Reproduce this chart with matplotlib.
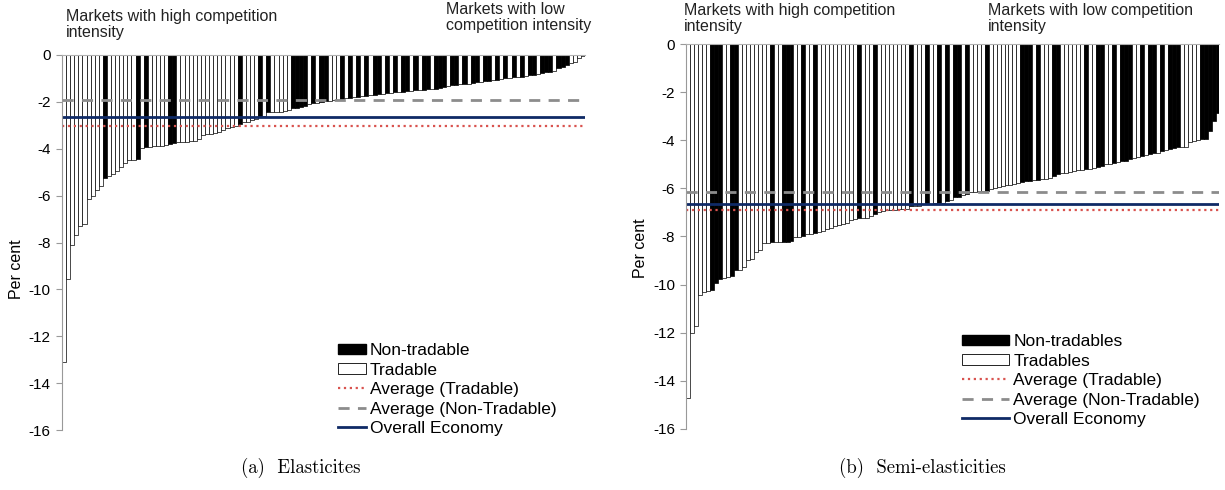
import matplotlib.pyplot as plt
from matplotlib.patches import Patch

plt.rcParams['font.family'] = ['Liberation Sans', 'DejaVu Sans']
plt.rcParams['axes.unicode_minus'] = False

# (a) elasticities, sorted from most to least negative; 1 = non-tradable, 0 = tradable
elast = [-13.1, -9.55, -8.1, -7.7, -7.3, -7.2, -6.15, -6.0, -5.75, -5.57,
         -5.25, -5.15, -5.06, -4.96, -4.78, -4.61, -4.5, -4.47, -4.44, -3.95,
         -3.93, -3.91, -3.9, -3.9, -3.89, -3.83, -3.78, -3.76, -3.73, -3.72,
         -3.7, -3.69, -3.66, -3.57, -3.43, -3.38, -3.37, -3.33, -3.28, -3.22,
         -3.13, -3.08, -3.02, -2.94, -2.88, -2.84, -2.77, -2.71, -2.63, -2.6,
         -2.45, -2.45, -2.42, -2.42, -2.41, -2.34, -2.28, -2.25, -2.22, -2.16,
         -2.09, -2.06, -2.03, -2.0, -1.98, -1.95, -1.92, -1.9, -1.88, -1.85,
         -1.83, -1.8, -1.78, -1.76, -1.74, -1.71, -1.69, -1.67, -1.65, -1.63,
         -1.61, -1.6, -1.58, -1.56, -1.55, -1.53, -1.51, -1.49, -1.48, -1.47,
         -1.45, -1.44, -1.43, -1.35, -1.32, -1.3, -1.28, -1.25, -1.23, -1.22,
         -1.18, -1.17, -1.17, -1.13, -1.12, -1.07, -1.06, -1.03, -1.0, -0.99,
         -0.96, -0.95, -0.92, -0.89, -0.85, -0.84, -0.8, -0.75, -0.73, -0.71,
         -0.7, -0.55, -0.52, -0.43, -0.36, -0.28, -0.14, -0.04]
elast_nt = [0, 0, 0, 0, 0, 0, 0, 0, 0, 0,
            1, 0, 0, 0, 0, 0, 0, 0, 1, 0,
            1, 0, 0, 0, 0, 0, 1, 1, 0, 0,
            0, 0, 0, 0, 0, 0, 0, 0, 0, 0,
            0, 0, 0, 1, 0, 0, 0, 0, 1, 0,
            1, 0, 0, 0, 0, 0, 1, 1, 1, 1,
            0, 1, 0, 1, 1, 0, 0, 0, 1, 0,
            1, 0, 1, 0, 1, 0, 1, 1, 0, 1,
            0, 1, 0, 1, 1, 0, 1, 0, 1, 1,
            0, 1, 1, 1, 0, 1, 1, 0, 1, 0,
            1, 1, 0, 1, 1, 0, 1, 0, 1, 0,
            1, 0, 1, 0, 1, 1, 0, 1, 1, 1,
            0, 1, 1, 1, 0, 0, 0, 0]
elast_avg_trad = -3.03
elast_avg_nontrad = -1.91
elast_overall = -2.65

# (b) semi-elasticities
semi = [-14.73, -12.02, -11.72, -10.43, -10.32, -10.27, -10.22, -9.92, -9.78, -9.74,
        -9.67, -9.66, -9.4, -9.39, -9.26, -8.98, -8.95, -8.63, -8.56, -8.28,
        -8.25, -8.23, -8.22, -8.22, -8.22, -8.21, -8.2, -8.04, -8.02, -7.98,
        -7.9, -7.88, -7.84, -7.8, -7.79, -7.7, -7.66, -7.56, -7.52, -7.49,
        -7.43, -7.31, -7.29, -7.25, -7.23, -7.22, -7.15, -7.07, -6.97, -6.93,
        -6.9, -6.89, -6.88, -6.87, -6.86, -6.84, -6.74, -6.73, -6.72, -6.66,
        -6.65, -6.64, -6.62, -6.61, -6.6, -6.51, -6.5, -6.36, -6.35, -6.28,
        -6.24, -6.15, -6.14, -6.12, -6.1, -6.09, -6.01, -5.98, -5.93, -5.91,
        -5.88, -5.85, -5.82, -5.79, -5.74, -5.71, -5.68, -5.65, -5.64, -5.62,
        -5.6, -5.56, -5.5, -5.4, -5.38, -5.35, -5.32, -5.28, -5.24, -5.22,
        -5.2, -5.18, -5.15, -5.1, -5.06, -4.99, -4.97, -4.93, -4.9, -4.88,
        -4.85, -4.8, -4.74, -4.71, -4.66, -4.6, -4.58, -4.55, -4.52, -4.46,
        -4.41, -4.36, -4.33, -4.3, -4.28, -4.27, -4.06, -4.03, -4.0, -3.96,
        -3.93, -3.6, -3.2, -2.88]
semi_nt = [0, 0, 0, 0, 0, 0, 1, 1, 1, 0,
           0, 1, 1, 0, 0, 0, 0, 0, 0, 0,
           0, 1, 0, 0, 1, 1, 1, 0, 0, 1,
           0, 0, 1, 0, 0, 0, 0, 0, 0, 0,
           0, 0, 0, 1, 0, 0, 0, 1, 0, 0,
           0, 0, 0, 0, 0, 0, 1, 0, 0, 0,
           1, 0, 0, 1, 0, 1, 0, 1, 1, 0,
           1, 0, 0, 0, 0, 1, 0, 0, 0, 0,
           0, 0, 0, 0, 1, 1, 1, 0, 1, 0,
           0, 0, 1, 1, 0, 0, 0, 0, 0, 0,
           1, 0, 0, 1, 1, 0, 0, 1, 0, 1,
           1, 1, 0, 0, 1, 0, 1, 1, 0, 1,
           0, 1, 1, 1, 0, 0, 0, 0, 0, 1,
           1, 1, 1, 1]
semi_avg_trad = -6.9
semi_avg_nontrad = -6.14
semi_overall = -6.66

yticks = list(range(-16, 1, 2))


def panel(ax, vals, nt, avg_t, avg_nt, overall, names, ylab_x, ylab_y):
    n = len(vals)
    cols = ['black' if k else 'white' for k in nt]
    ax.bar(range(n), vals, width=1.0, align='edge', color=cols,
           edgecolor='black', linewidth=0.5)
    l_t = ax.axhline(avg_t, color='#d9534f', linestyle=':', linewidth=1.6)
    l_nt = ax.axhline(avg_nt, color='#8c8c8c', linestyle=(0, (4, 3)), linewidth=2)
    l_ov = ax.axhline(overall, color='#0f2a66', linewidth=2)
    ax.set_xlim(0, n)
    ax.set_ylim(-16, 0)
    ax.set_yticks(yticks)
    ax.set_yticklabels([str(t) for t in yticks], fontsize=11)
    ax.set_xticks([])
    for s in ['right', 'bottom']:
        ax.spines[s].set_visible(False)
    ax.spines['left'].set_color('#999999')
    ax.spines['top'].set_color('#b0b0b0')
    ax.tick_params(axis='y', colors='#999999', labelcolor='black', length=4, pad=4)
    ax.set_ylabel('Per cent', fontsize=11.5)
    ax.yaxis.set_label_coords(ylab_x, ylab_y)
    handles = [Patch(facecolor='black', edgecolor='black'),
               Patch(facecolor='white', edgecolor='black', linewidth=0.6),
               l_t, l_nt, l_ov]
    labels = [names[0], names[1], 'Average (Tradable)',
              'Average (Non-Tradable)', 'Overall Economy']
    return handles, labels


fig = plt.figure(figsize=(12.25, 4.9), dpi=100)
ax1 = fig.add_axes([0.0506, 0.1224, 0.427, 0.7654])
ax2 = fig.add_axes([0.5600, 0.1245, 0.4355, 0.7857])

h, lab = panel(ax1, elast, elast_nt, elast_avg_trad, elast_avg_nontrad,
               elast_overall, ['Non-tradable', 'Tradable'], -0.072, 0.43)
ax1.legend(h, lab, loc='upper left', bbox_to_anchor=(338 / 1225, 1 - 343 / 490),
           bbox_transform=fig.transFigure, frameon=False, fontsize=12.5,
           handlelength=1.6, handleheight=0.55, handletextpad=0.25,
           labelspacing=0.26, borderpad=0, borderaxespad=0)
h, lab = panel(ax2, semi, semi_nt, semi_avg_trad, semi_avg_nontrad,
               semi_overall, ['Non-tradables', 'Tradables'], -0.072, 0.47)
ax2.legend(h, lab, loc='upper left', bbox_to_anchor=(962 / 1225, 1 - 334 / 490),
           bbox_transform=fig.transFigure, frameon=False, fontsize=12.5,
           handlelength=2.7, handleheight=0.55, handletextpad=0.25,
           labelspacing=0.26, borderpad=0, borderaxespad=0)

top_txt = dict(fontsize=11.5, va='top', ha='left', color='#222222', linespacing=1.05)
fig.text(66 / 1225, 1 - 9 / 490, 'Markets with high competition\nintensity', **top_txt)
fig.text(446 / 1225, 1 - 2 / 490, 'Markets with low\ncompetition intensity', **top_txt)
fig.text(684 / 1225, 1 - 3 / 490, 'Markets with high competition\nintensity', **top_txt)
fig.text(988 / 1225, 1 - 3 / 490, 'Markets with low competition\nintensity', **top_txt)

cap = dict(fontsize=13.5, ha='center', va='center', family=['cmr10', 'DejaVu Serif'])
fig.text(301 / 1225, 1 - 468 / 490, '(a)  Elasticites', **cap)
fig.text(922 / 1225, 1 - 468 / 490, '(b)  Semi-elasticities', **cap)

fig.savefig('out.png', dpi=100)
